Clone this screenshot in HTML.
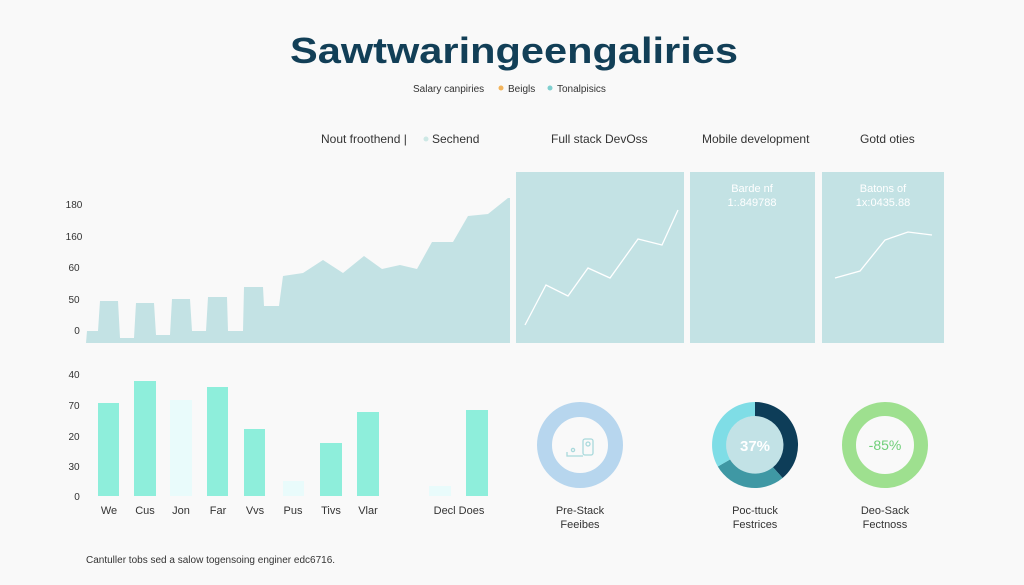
<!DOCTYPE html>
<html><head><meta charset="utf-8"><style>
html,body{margin:0;padding:0;background:#f9f9f9;}
svg{display:block;font-family:"Liberation Sans",sans-serif;}
</style></head><body>
<svg width="1024" height="585" viewBox="0 0 1024 585" xmlns="http://www.w3.org/2000/svg">
<rect width="1024" height="585" fill="#f9f9f9"/>
<text x="290" y="63" textLength="448" lengthAdjust="spacingAndGlyphs" font-size="36" font-weight="bold" fill="#123f57">Sawtwaringeengaliries</text>
<text x="413" y="92" font-size="10" fill="#333">Salary canpiries</text>
<circle cx="501" cy="88" r="2.5" fill="#f2b45c"/>
<text x="508" y="92" font-size="10" fill="#333">Beigls</text>
<circle cx="550" cy="88" r="2.5" fill="#7fcfcf"/>
<text x="557" y="92" font-size="10" fill="#333">Tonalpisics</text>
<g font-size="12" fill="#333">
<text x="321" y="143">Nout froothend  |</text>
<circle cx="426" cy="139" r="2.5" fill="#cde8e5"/>
<text x="432" y="143">Sechend</text>
<text x="551" y="143">Full stack DevOss</text>
<text x="702" y="143">Mobile development</text>
<text x="860" y="143">Gotd oties</text>
</g>
<g font-size="10" fill="#333" text-anchor="middle">
<text x="74" y="208">180</text><text x="74" y="240">160</text><text x="74" y="271">60</text><text x="74" y="303">50</text><text x="77" y="334">0</text>
</g>
<polygon fill="#c3e2e4" points="86,343 87,331 98,331 100,301 118,301 120,338 134,338 136,303 154,303 156,335 170,335 172,299 190,299 192,331 206,331 208,297 227,297 228,331 243,331 244,287 263,287 264,306 279,306 283,276 303,273 323,260 343,273 364,256 382,269 400,265 417,269 432,242 453,242 468,216 488,214 508,198 510,198 510,343"/>
<rect x="516" y="172" width="168" height="171" fill="#c3e2e4"/>
<rect x="690" y="172" width="125" height="171" fill="#c3e2e4"/>
<rect x="822" y="172" width="122" height="171" fill="#c3e2e4"/>
<polyline fill="none" stroke="#fff" stroke-width="1.3" points="525,325 546,285 568,296 588,268 610,278 638,239 662,245 678,210"/>
<polyline fill="none" stroke="#fff" stroke-width="1.3" points="835,278 860,271 885,240 908,232 932,235"/>
<g font-size="11" fill="#fff" text-anchor="middle">
<text x="752" y="192">Barde nf</text><text x="752" y="206">1:.849788</text>
<text x="883" y="192">Batons of</text><text x="883" y="206">1x:0435.88</text>
</g>
<g font-size="10" fill="#333" text-anchor="middle">
<text x="74" y="378">40</text><text x="74" y="409">70</text><text x="74" y="440">20</text><text x="74" y="470">30</text><text x="77" y="500">0</text>
</g>
<g fill="#8eeedb">
<rect x="98" y="403" width="21" height="93"/>
<rect x="134" y="381" width="22" height="115"/>
<rect x="170" y="400" width="22" height="96" fill="#e9fbfb"/>
<rect x="207" y="387" width="21" height="109"/>
<rect x="244" y="429" width="21" height="67"/>
<rect x="283" y="481" width="21" height="15" fill="#e9fbfb"/>
<rect x="320" y="443" width="22" height="53"/>
<rect x="357" y="412" width="22" height="84"/>
<rect x="429" y="486" width="22" height="10" fill="#e9fbfb"/>
<rect x="466" y="410" width="22" height="86"/>
</g>
<g font-size="11" fill="#333" text-anchor="middle">
<text x="109" y="514">We</text><text x="145" y="514">Cus</text><text x="181" y="514">Jon</text><text x="218" y="514">Far</text><text x="255" y="514">Vvs</text><text x="293" y="514">Pus</text><text x="331" y="514">Tivs</text><text x="368" y="514">Vlar</text><text x="459" y="514">Decl Does</text>
</g>
<circle cx="580" cy="445" r="35.5" fill="none" stroke="#b7d6ee" stroke-width="15"/>
<g fill="none" stroke="#a9d9dc" stroke-width="1.3"><rect x="583" y="439" width="10" height="16" rx="2"/><circle cx="588" cy="444" r="2"/><circle cx="573" cy="450" r="1.6"/><path d="M567 452 V456 H583"/></g>
<circle cx="755" cy="445" r="29" fill="#c2e2e6"/>
<path d="M755 402 A43 43 0 0 1 782.6 478 L773 467.3 A29 29 0 0 0 755 416 Z" fill="#0d3d58"/>
<path d="M782.6 478 A43 43 0 0 1 717.8 466.5 L730 459.5 A29 29 0 0 0 773 467.3 Z" fill="#3f98a4"/>
<path d="M717.8 466.5 A43 43 0 0 1 755 402 L755 416 A29 29 0 0 0 730 459.5 Z" fill="#7fdde6"/>
<text x="755" y="451" text-anchor="middle" font-size="15" font-weight="bold" fill="#fff">37%</text>
<circle cx="885" cy="445" r="36" fill="none" stroke="#9ee08f" stroke-width="14"/>
<text x="885" y="450" text-anchor="middle" font-size="14" fill="#6fcf78">-85%</text>
<g font-size="11" fill="#333" text-anchor="middle">
<text x="580" y="514">Pre-Stack</text><text x="580" y="528">Feeibes</text>
<text x="755" y="514">Poc-ttuck</text><text x="755" y="528">Festrices</text>
<text x="885" y="514">Deo-Sack</text><text x="885" y="528">Fectnoss</text>
</g>
<text x="86" y="563" font-size="10" fill="#333">Cantuller tobs sed a salow togensoing enginer edc6716.</text>
</svg>
</body></html>
